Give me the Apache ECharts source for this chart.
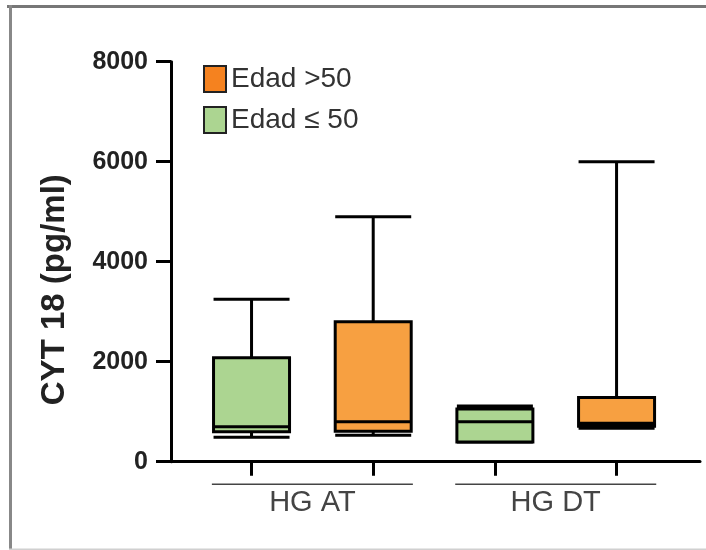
<!DOCTYPE html>
<html><head><meta charset="utf-8">
<script src="https://cdn.jsdelivr.net/npm/echarts@6/dist/echarts.min.js"></script>
<style>html,body{margin:0;padding:0;background:#fff}#c{width:706px;height:550px}</style>
</head><body><div id="c"></div>
<script>
// Group labels and box slots (one slot per box along the x axis)
const groups = ['HG AT', 'HG DT'];
const boxSlots = ['HG AT ≤50', 'HG AT >50', 'HG DT ≤50', 'HG DT >50'];
// Box values: [min, Q1, median, Q3, max]  (pg/ml)
const youngAT = [490, 600, 700, 2080, 3250];
const youngDT = [390, 395, 800, 1055, 1115];
const olderAT = [530, 610, 800, 2800, 4900];
const olderDT = [670, 710, 770, 1285, 6000];
// Y axis
const yMin = 0, yMax = 8000, yStep = 2000;
const yName = 'CYT 18 (pg/ml)';
const seriesNames = ['Edad >50', 'Edad ≤ 50'];

const FONT = 'Liberation Sans, Arial, sans-serif';
const chart = echarts.init(document.getElementById('c'));

const gridTop = 61.7, gridBottom = 88.3;

const option = {
  animation: false,
  backgroundColor: '#fff',
  grid: [
    {left: 190.7, right: 28.6, top: gridTop, bottom: gridBottom},
    {left: 171, right: 6, top: gridTop, bottom: gridBottom}
  ],
  legend: {
    orient: 'vertical', left: 198, top: 60, itemWidth: 22, itemHeight: 26, itemGap: 13,
    icon: 'rect',
    textStyle: {fontFamily: FONT, fontSize: 28, color: '#333'},
    data: [
      {name: seriesNames[0], itemStyle: {color: '#f5821f', borderColor: '#222', borderWidth: 2}},
      {name: seriesNames[1], itemStyle: {color: '#acd591', borderColor: '#222', borderWidth: 2}}
    ]
  },
  xAxis: [
    {type: 'category', gridIndex: 0, position: 'bottom', data: boxSlots, boundaryGap: true,
     axisLine: {show: false},
     axisTick: {show: true, alignWithLabel: true, interval: 0, length: 14, lineStyle: {color: '#000', width: 3}},
     axisLabel: {show: false}, splitLine: {show: false}},
    {type: 'category', gridIndex: 0, position: 'bottom', data: boxSlots, boundaryGap: true, show: false},
    {type: 'category', gridIndex: 0, position: 'bottom', data: groups, boundaryGap: true,
     axisLine: {show: false}, axisTick: {show: false},
     axisLabel: {show: true, interval: 0, margin: 27, fontFamily: FONT, fontSize: 29, color: '#444'},
     splitLine: {show: false}},
    {type: 'value', gridIndex: 1, position: 'bottom', min: 0, max: 1,
     axisLine: {show: true, lineStyle: {color: '#000', width: 3}},
     axisTick: {show: false}, axisLabel: {show: false}, splitLine: {show: false}}
  ],
  yAxis: [
    {type: 'value', gridIndex: 0, min: yMin, max: yMax, interval: yStep, show: false, splitLine: {show: false}},
    {type: 'value', gridIndex: 1, min: yMin, max: yMax, interval: yStep,
     name: yName, nameLocation: 'middle', nameRotate: 90, nameGap: 100,
     nameTextStyle: {fontFamily: FONT, fontSize: 33, fontWeight: 'bold', color: '#222', padding: [0, 56, 0, 0]},
     axisLine: {show: true, lineStyle: {color: '#000', width: 3}},
     axisTick: {show: true, length: 15, lineStyle: {color: '#000', width: 3}},
     axisLabel: {margin: 23, fontFamily: FONT, fontSize: 25, fontWeight: 'bold', color: '#222',
       formatter: v => String(v)},
     splitLine: {show: false}}
  ],
  series: [
    {name: seriesNames[1], type: 'boxplot', xAxisIndex: 0, yAxisIndex: 0,
     encode: {x: 0, y: [1, 2, 3, 4, 5]},
     boxWidth: [76, 76],
     itemStyle: {color: '#acd591', borderColor: '#000', borderWidth: 3},
     emphasis: {disabled: true},
     data: [[boxSlots[0]].concat(youngAT), [boxSlots[2]].concat(youngDT)]},
    {name: seriesNames[0], type: 'boxplot', xAxisIndex: 1, yAxisIndex: 0,
     encode: {x: 0, y: [1, 2, 3, 4, 5]},
     boxWidth: [76, 76],
     itemStyle: {color: '#f7a041', borderColor: '#000', borderWidth: 3},
     emphasis: {disabled: true},
     data: [[boxSlots[1]].concat(olderAT), [boxSlots[3]].concat(olderDT)]},
    {name: 'groupLines', type: 'custom', xAxisIndex: 2, yAxisIndex: 0, clip: false, silent: true,
     encode: {x: 0, y: 1},
     data: groups.map(g => [g, 0]),
     renderItem: function (params, api) {
       const p = api.coord([api.value(0), 0]);
       const half = api.size([1, 0])[0] * 0.413;
       return {type: 'line',
         shape: {x1: p[0] - half, y1: p[1] + 22.5, x2: p[0] + half, y2: p[1] + 22.5},
         style: {stroke: '#444', lineWidth: 1.6}};
     }}
  ],
  graphic: [
    {type: 'rect', shape: {x: 7, y: 5, width: 699, height: 3}, style: {fill: '#777'}, silent: true},
    {type: 'rect', shape: {x: 9, y: 5, width: 3, height: 545}, style: {fill: '#888'}, silent: true},
    {type: 'rect', shape: {x: 9, y: 548.5, width: 697, height: 1.5}, style: {fill: '#d0d0d0'}, silent: true}
  ]
};
chart.setOption(option);
</script>
</body></html>
